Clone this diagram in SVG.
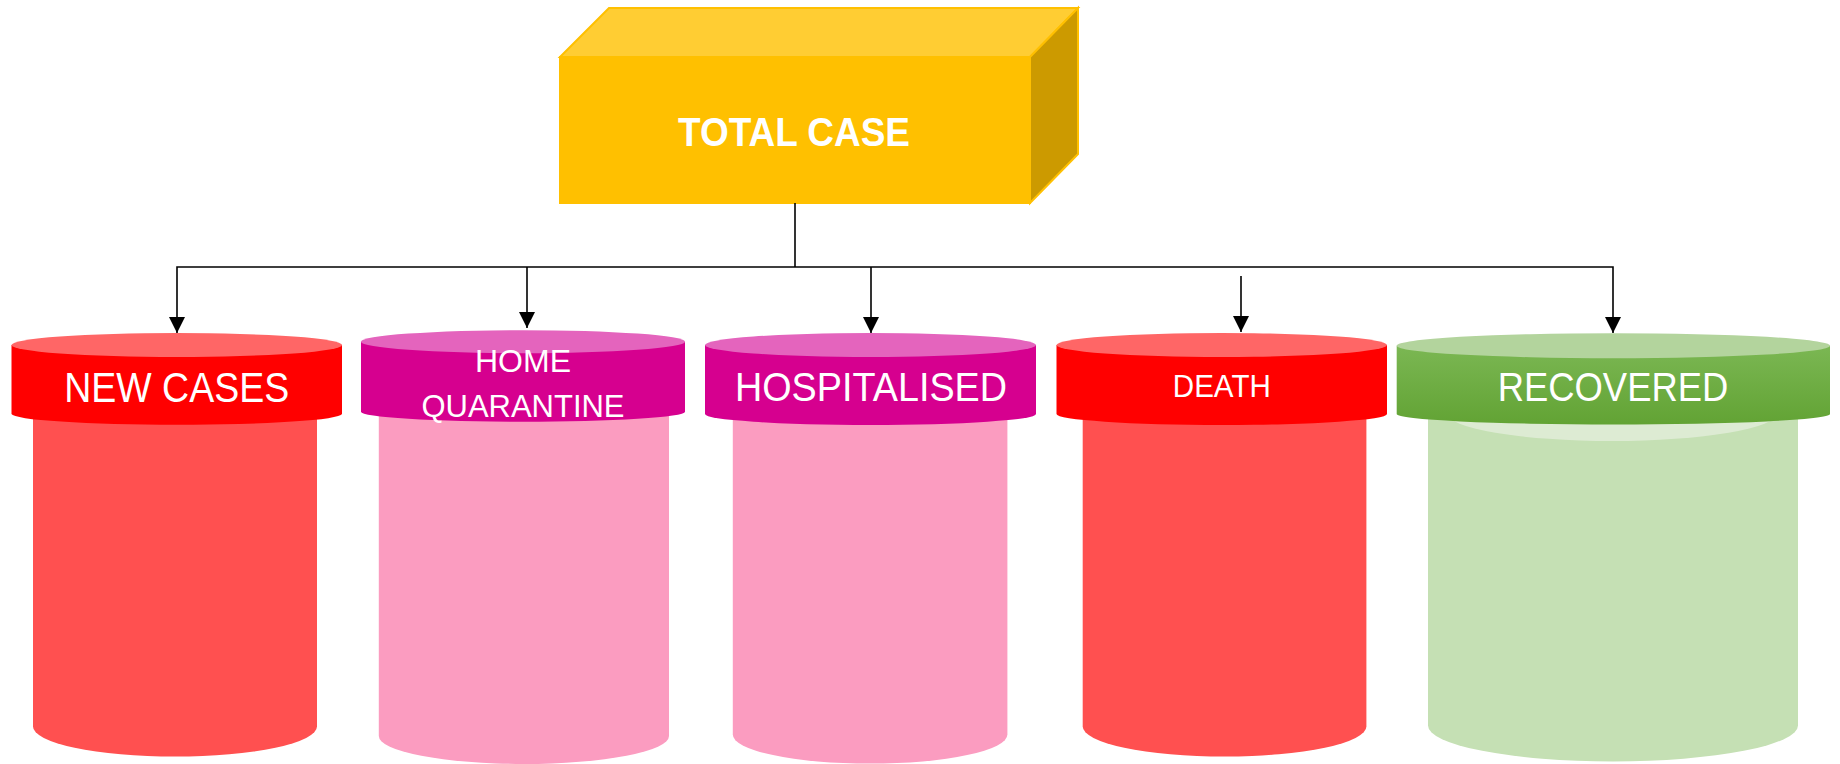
<svg xmlns="http://www.w3.org/2000/svg" width="1840" height="764" viewBox="0 0 1840 764">
<defs>
<marker id="arr" viewBox="0 0 16 16" refX="16" refY="8" markerWidth="16" markerHeight="16" markerUnits="userSpaceOnUse" orient="auto">
<path d="M0,0 L16,8 L0,16 Z" fill="#000"/>
</marker>
<linearGradient id="grn" x1="0" y1="0" x2="0" y2="1">
<stop offset="0" stop-color="#7BB753"/>
<stop offset="1" stop-color="#62A334"/>
</linearGradient>
</defs>
<style>
.lbl{font-family:"Liberation Sans",Arial,sans-serif;fill:#fff;text-anchor:middle}
.con{fill:none;stroke:#000;stroke-width:1.6}
.redS{fill:#FF0000}.redT{fill:#FF6666}.redB{fill:#FF5050}
.magS{fill:#D6008F}.magT{fill:#E464BD}.pinkB{fill:#FB9CC0}
.grnS{fill:url(#grn)}.grnT{fill:#B3D49D}.grnB{fill:#C5E0B4}
</style>
<rect width="1840" height="764" fill="#fff"/>

<g id="total-case">
<rect x="560" y="57" width="470" height="146" fill="#FFC000" stroke="#FFC000" stroke-width="2"/>
<polygon points="560,57 609,8 1078,8 1030,57" fill="#FFCD33" stroke="#FFC000" stroke-width="2"/>
<polygon points="1030,57 1078,8 1078,154 1030,203" fill="#CC9A00" stroke="#FFC000" stroke-width="2"/>
<text class="lbl" x="794" y="146" font-size="41" font-weight="bold" textLength="232" lengthAdjust="spacingAndGlyphs">TOTAL CASE</text>
</g>

<g id="connectors">
<path class="con" d="M795,203 V267" stroke-width="2.6"/>
<path class="con" d="M795,267 H177 V333" marker-end="url(#arr)"/>
<path class="con" d="M527,267 V328" marker-end="url(#arr)"/>
<path class="con" d="M795,267 H1613 V333" marker-end="url(#arr)"/>
<path class="con" d="M871,267 V333" marker-end="url(#arr)"/>
<path class="con" d="M1241,276 V332" marker-end="url(#arr)"/>
</g>

<g id="new-cases">
<path class="redB" d="M33,400 V726.5 A142,30 0 0 0 317,726.5 V400 Z"/>
<path class="redS" d="M11.5,345 V414 A165.3,11 0 0 0 342,414 V345 Z"/>
<ellipse class="redT" cx="176.8" cy="345" rx="165.3" ry="12"/>
<text class="lbl" x="176.7" y="401.7" font-size="43" textLength="225" lengthAdjust="spacingAndGlyphs">NEW CASES</text>
</g>

<g id="home-quarantine">
<path class="pinkB" d="M378.8,400 V736 A145.1,28 0 0 0 669,736 V400 Z"/>
<path class="magS" d="M361,341.7 V411.7 A162,10 0 0 0 685,411.7 V341.7 Z"/>
<ellipse class="magT" cx="523" cy="341.7" rx="162" ry="11.5"/>
<text class="lbl" x="523" y="371.7" font-size="31.7" textLength="96" lengthAdjust="spacingAndGlyphs">HOME</text>
<text class="lbl" x="523" y="416.7" font-size="31.7" textLength="203" lengthAdjust="spacingAndGlyphs">QUARANTINE</text>
</g>

<g id="hospitalised">
<path class="pinkB" d="M732.8,400 V734.6 A137.3,29 0 0 0 1007.4,734.6 V400 Z"/>
<path class="magS" d="M705,345 V414 A165.5,11 0 0 0 1036,414 V345 Z"/>
<ellipse class="magT" cx="870.5" cy="345" rx="165.5" ry="12"/>
<text class="lbl" x="871" y="400.7" font-size="40.5" textLength="272" lengthAdjust="spacingAndGlyphs">HOSPITALISED</text>
</g>

<g id="death">
<path class="redB" d="M1082.7,400 V726.5 A141.85,30 0 0 0 1366.4,726.5 V400 Z"/>
<path class="redS" d="M1056.5,345 V414 A165.25,11 0 0 0 1387,414 V345 Z"/>
<ellipse class="redT" cx="1221.75" cy="345" rx="165.25" ry="12"/>
<text class="lbl" x="1221.8" y="396.7" font-size="31.7" textLength="98" lengthAdjust="spacingAndGlyphs">DEATH</text>
</g>

<g id="recovered">
<path class="grnB" d="M1428,400 V725.4 A185,36 0 0 0 1798,725.4 V400 Z"/>
<ellipse cx="1612" cy="413" rx="165" ry="28" fill="#DDEBD3"/>
<path class="grnS" d="M1396.7,345.7 V414 A216.65,10.5 0 0 0 1830,414 V345.7 Z"/>
<ellipse class="grnT" cx="1613.35" cy="345.7" rx="216.65" ry="12.5"/>
<text class="lbl" x="1613" y="400.7" font-size="40.5" textLength="230.6" lengthAdjust="spacingAndGlyphs">RECOVERED</text>
</g>
</svg>
